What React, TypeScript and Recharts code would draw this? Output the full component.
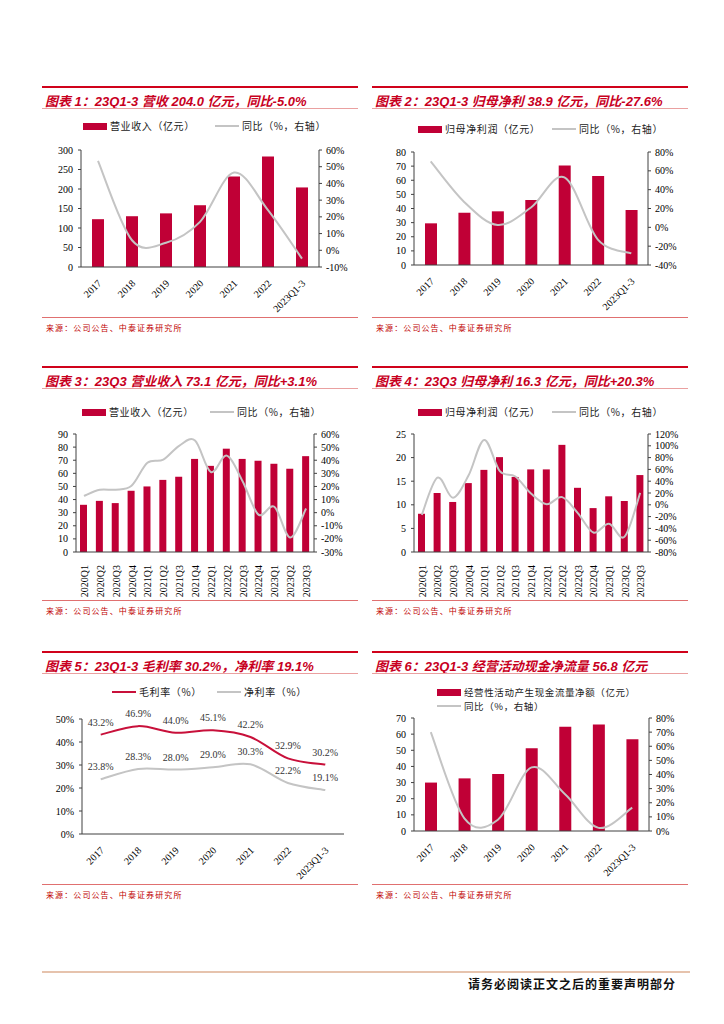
import React from 'react';
import { ComposedChart, Bar, Line, XAxis, YAxis, LabelList } from 'recharts';

const YEARS = ['2017', '2018', '2019', '2020', '2021', '2022', '2023Q1-3'];
const QUARTERS = [
  '2020Q1', '2020Q2', '2020Q3', '2020Q4',
  '2021Q1', '2021Q2', '2021Q3', '2021Q4',
  '2022Q1', '2022Q2', '2022Q3', '2022Q4',
  '2023Q1', '2023Q2', '2023Q3',
];

// 图表1 营业收入（亿元）/ 同比（%）
const revenueYear = [122.6, 130.2, 137.5, 158.4, 232.2, 283.2, 204.0];
const revenueYearYoy = [53.5, 6.0, 4.5, 17.0, 46.5, 24.0, -5.0];

// 图表2 归母净利润（亿元）/ 同比
const profitYear = [29.5, 37.0, 38.0, 46.0, 70.5, 63.0, 38.9];
const profitYearYoy = [70.0, 27.0, 2.5, 21.0, 53.0, -13.0, -27.6];

// 图表3 单季营业收入 / 同比
const revenueQ = [36.0, 39.0, 37.3, 46.7, 50.0, 55.0, 57.4, 71.0, 65.7, 78.8, 71.0, 69.6, 67.3, 63.5, 73.1];
const revenueQYoy = [12.8, 17.5, 17.5, 20.5, 38.0, 40.5, 51.0, 55.0, 31.0, 43.5, 24.0, -1.5, 4.5, -19.0, 3.1];

// 图表4 单季归母净利 / 同比
const profitQ = [8.1, 12.5, 10.6, 14.6, 17.4, 20.1, 15.9, 17.5, 17.5, 22.7, 13.6, 9.3, 11.8, 10.8, 16.3];
const profitQYoy = [-17, 46, 12, 50, 110, 57, 48, 19, 1, 13, -14, -47, -32, -54, 20.3];

// 图表5 毛利率 / 净利率
const grossMargin = [43.2, 46.9, 44.0, 45.1, 42.2, 32.9, 30.2];
const netMargin = [23.8, 28.3, 28.0, 29.0, 30.3, 22.2, 19.1];

// 图表6 经营性现金流净额 / 同比
const cashFlow = [30.0, 32.6, 35.3, 51.2, 64.6, 66.0, 56.8];
const cashFlowYoy = [70.0, 9.0, 8.0, 45.0, 26.0, 2.2, 16.5];

const RED = '#c00036';
const LINE_RED = '#c8103a';
const GRAY = '#c4c4c4';
const AXIS = '#404040';
const TITLE_RED = '#c8001e';
const SERIF = '"Liberation Serif", "Times New Roman", serif';
const CJK = '"Noto Sans CJK SC", sans-serif';
const PAD = 12; // extra room under the tick labels

const toRows = (cats: string[], bar: number[], line: number[]) =>
  cats.map((name, i) => ({ name, bar: bar[i], line: line[i] }));

const range = (a: number, b: number, s: number) => {
  const out: number[] = [];
  for (let v = a; v <= b; v += s) out.push(v);
  return out;
};

const pct = (v: number) => `${v}%`;
const tickStyle = { fontSize: 10, fontFamily: SERIF, fill: '#000' };

// Excel-style smoothed line (Catmull-Rom through the points)
const smoothCurve = (context: any) => {
  let pts: [number, number][] = [];
  return {
    areaStart() {},
    areaEnd() {},
    lineStart() { pts = []; },
    point(x: number, y: number) { pts.push([+x, +y]); },
    lineEnd() {
      const n = pts.length;
      if (!n) return;
      context.moveTo(pts[0][0], pts[0][1]);
      const k = 1 / 6;
      for (let i = 0; i < n - 1; i++) {
        const p0 = pts[i - 1] || pts[i];
        const p1 = pts[i];
        const p2 = pts[i + 1];
        const p3 = pts[i + 2] || p2;
        context.bezierCurveTo(
          p1[0] + (p2[0] - p0[0]) * k, p1[1] + (p2[1] - p0[1]) * k,
          p2[0] - (p3[0] - p1[0]) * k, p2[1] - (p3[1] - p1[1]) * k,
          p2[0], p2[1],
        );
      }
    },
  };
};

const AngledTick = (props: any) => {
  const { x, y, payload } = props;
  const ax = x + 4;
  const ay = y + 9;
  return (
    <text x={ax} y={ay} transform={`rotate(-45 ${ax} ${ay})`} textAnchor="end" fontSize={10} fontFamily={SERIF} fill="#000">
      {payload.value}
    </text>
  );
};

const VerticalTick = (props: any) => {
  const { x, y, payload } = props;
  const ax = x + 4;
  const ay = y + 5;
  return (
    <text x={ax} y={ay} transform={`rotate(-90 ${ax} ${ay})`} textAnchor="end" fontSize={10} fontFamily={SERIF} fill="#000">
      {payload.value}
    </text>
  );
};

type LegendEntry = { kind: 'bar' | 'line'; color: string; label: string; x: number; y: number; size?: number };

const LegendItem = ({ kind, color, label, x, y, size = 10 }: LegendEntry) => (
  <div style={{ position: 'absolute', left: x, top: y - 6, height: 12, display: 'flex', alignItems: 'center', whiteSpace: 'nowrap' }}>
    <div style={{ width: 24, height: kind === 'bar' ? 7 : 2, background: color, marginRight: 3 }} />
    <span style={{ fontFamily: CJK, fontSize: size, lineHeight: '12px', color: '#222', letterSpacing: 0.6 }}>{label}</span>
  </div>
);

const Frame = ({ x, top, title, srcY }: { x: number; top: number; title: string; srcY: number }) => (
  <>
    <div style={{ position: 'absolute', left: x + 2, top, width: 316, height: 2, background: '#d0021b' }} />
    <div
      style={{
        position: 'absolute', left: x + 5, top: top + 5, whiteSpace: 'nowrap',
        fontFamily: `"Liberation Sans", ${CJK}`, fontSize: 13, fontWeight: 'bold', fontStyle: 'italic', color: TITLE_RED,
      }}
    >
      {title}
    </div>
    <div style={{ position: 'absolute', left: x + 2, top: top + 22, width: 316, height: 1, background: '#eaa0a0' }} />
    <div style={{ position: 'absolute', left: x + 2, top: srcY, width: 316, height: 1, background: '#e07070' }} />
    <div style={{ position: 'absolute', left: x + 6, top: srcY + 5, fontFamily: CJK, fontSize: 8, color: '#c00000', letterSpacing: 1.1, whiteSpace: 'nowrap' }}>
      来源：公司公告、中泰证券研究所
    </div>
  </>
);

type DualProps = {
  left: number; top: number; height: number;
  rows: { name: string; bar: number; line: number }[];
  margin: { top: number; right: number; left: number };
  leftTicks: number[]; rightTicks: number[];
  leftWidth: number; rightWidth: number; xHeight: number;
  barSize: number; vertical?: boolean;
};

const DualChart = (p: DualProps) => (
  <div style={{ position: 'absolute', left: p.left, top: p.top }}>
    <ComposedChart width={320} height={p.height + PAD} data={p.rows} margin={{ ...p.margin, bottom: PAD }} style={{ overflow: 'visible' }}>
      <XAxis
        dataKey="name" interval={0} height={p.xHeight} tickLine={false} stroke={AXIS}
        tick={p.vertical ? <VerticalTick /> : <AngledTick />}
      />
      <YAxis
        yAxisId="l" domain={[p.leftTicks[0], p.leftTicks[p.leftTicks.length - 1]]} ticks={p.leftTicks}
        width={p.leftWidth} stroke={AXIS} tickSize={3} tickMargin={5} tick={tickStyle} interval={0}
      />
      <YAxis
        yAxisId="r" orientation="right" domain={[p.rightTicks[0], p.rightTicks[p.rightTicks.length - 1]]} ticks={p.rightTicks}
        tickFormatter={pct} width={p.rightWidth} stroke={AXIS} tickSize={3} tickMargin={4} tick={tickStyle} interval={0}
      />
      <Bar yAxisId="l" dataKey="bar" fill={RED} barSize={p.barSize} isAnimationActive={false} />
      <Line yAxisId="r" dataKey="line" type={smoothCurve as any} stroke={GRAY} strokeWidth={2} dot={false} isAnimationActive={false} />
    </ComposedChart>
  </div>
);

const marginRows = YEARS.map((name, i) => ({ name, gross: grossMargin[i], net: netMargin[i] }));
const fmtPct1 = (v: any) => `${Number(v).toFixed(1)}%`;
const labelStyle = { fontSize: 10, fontFamily: SERIF, fill: '#333' };

const App: React.FC = () => {
  return (
    <div style={{ position: 'absolute', left: 0, top: 0, width: 724, height: 1024, background: '#fff', overflow: 'hidden' }}>
      {/* row 1 */}
      <Frame x={40} top={86} title="图表 1：23Q1-3 营收 204.0 亿元，同比-5.0%" srcY={317} />
      <Frame x={370} top={86} title="图表 2：23Q1-3 归母净利 38.9 亿元，同比-27.6%" srcY={317} />
      <LegendItem kind="bar" color={RED} label="营业收入（亿元）" x={83} y={126} />
      <LegendItem kind="line" color={GRAY} label="同比（%，右轴）" x={215} y={126} />
      <LegendItem kind="bar" color={RED} label="归母净利润（亿元）" x={418} y={129} />
      <LegendItem kind="line" color={GRAY} label="同比（%，右轴）" x={552} y={129} />
      <DualChart
        left={40} top={112} height={200} rows={toRows(YEARS, revenueYear, revenueYearYoy)}
        margin={{ top: 38, right: 3, left: 5 }}
        leftTicks={range(0, 300, 50)} rightTicks={range(-10, 60, 10)}
        leftWidth={36} rightWidth={38} xHeight={45} barSize={12}
      />
      <DualChart
        left={370} top={112} height={200} rows={toRows(YEARS, profitYear, profitYearYoy)}
        margin={{ top: 40, right: 2, left: 8 }}
        leftTicks={range(0, 80, 10)} rightTicks={range(-40, 80, 20)}
        leftWidth={36} rightWidth={40} xHeight={47} barSize={12}
      />

      {/* row 2 */}
      <Frame x={40} top={366} title="图表 3：23Q3 营业收入 73.1 亿元，同比+3.1%" srcY={600} />
      <Frame x={370} top={366} title="图表 4：23Q3 归母净利 16.3 亿元，同比+20.3%" srcY={600} />
      <LegendItem kind="bar" color={RED} label="营业收入（亿元）" x={82} y={412} />
      <LegendItem kind="line" color={GRAY} label="同比（%，右轴）" x={210} y={412} />
      <LegendItem kind="bar" color={RED} label="归母净利润（亿元）" x={418} y={412} />
      <LegendItem kind="line" color={GRAY} label="同比（%，右轴）" x={552} y={412} />
      <DualChart
        left={40} top={395} height={200} rows={toRows(QUARTERS, revenueQ, revenueQYoy)}
        margin={{ top: 39, right: 4, left: 4 }}
        leftTicks={range(0, 90, 10)} rightTicks={range(-30, 60, 10)}
        leftWidth={32} rightWidth={42} xHeight={43} barSize={7} vertical
      />
      <DualChart
        left={370} top={395} height={200} rows={toRows(QUARTERS, profitQ, profitQYoy)}
        margin={{ top: 39, right: 2, left: 8 }}
        leftTicks={range(0, 25, 5)} rightTicks={range(-80, 120, 20)}
        leftWidth={36} rightWidth={40} xHeight={43} barSize={7} vertical
      />

      {/* row 3 */}
      <Frame x={40} top={651} title="图表 5：23Q1-3 毛利率 30.2%，净利率 19.1%" srcY={884} />
      <Frame x={370} top={651} title="图表 6：23Q1-3 经营活动现金净流量 56.8 亿元" srcY={884} />
      <LegendItem kind="line" color={LINE_RED} label="毛利率（%）" x={112} y={692} />
      <LegendItem kind="line" color={GRAY} label="净利率（%）" x={217} y={692} />
      <LegendItem kind="bar" color={RED} label="经营性活动产生现金流量净额（亿元）" x={437} y={692} size={9.5} />
      <LegendItem kind="line" color={GRAY} label="同比（%，右轴）" x={437} y={706} size={9.5} />

      <div style={{ position: 'absolute', left: 40, top: 680 }}>
        <ComposedChart width={320} height={200 + PAD} data={marginRows} margin={{ top: 39, right: 16, bottom: PAD, left: 4 }} style={{ overflow: 'visible' }}>
          <XAxis dataKey="name" scale="band" interval={0} height={46} tickLine={false} stroke={AXIS} tick={<AngledTick />} />
          <YAxis
            domain={[0, 50]} ticks={range(0, 50, 10)} tickFormatter={pct} width={38}
            stroke={AXIS} tickSize={3} tickMargin={5} tick={tickStyle} interval={0}
          />
          <Line dataKey="gross" type={smoothCurve as any} stroke={LINE_RED} strokeWidth={2} dot={false} isAnimationActive={false}>
            <LabelList dataKey="gross" position="top" offset={9} formatter={fmtPct1} style={labelStyle} />
          </Line>
          <Line dataKey="net" type={smoothCurve as any} stroke={GRAY} strokeWidth={2} dot={false} isAnimationActive={false}>
            <LabelList dataKey="net" position="top" offset={9} formatter={fmtPct1} style={labelStyle} />
          </Line>
        </ComposedChart>
      </div>

      <DualChart
        left={370} top={675} height={205} rows={toRows(YEARS, cashFlow, cashFlowYoy)}
        margin={{ top: 43, right: 3, left: 8 }}
        leftTicks={range(0, 70, 10)} rightTicks={range(0, 80, 10)}
        leftWidth={36} rightWidth={38} xHeight={49} barSize={12}
      />

      {/* footer */}
      <div style={{ position: 'absolute', left: 42, top: 971, width: 648, height: 2, background: '#e6c3ad' }} />
      <div style={{ position: 'absolute', right: 48, top: 975, fontFamily: CJK, fontSize: 12, letterSpacing: 1, fontWeight: 'bold', color: '#111', whiteSpace: 'nowrap' }}>
        请务必阅读正文之后的重要声明部分
      </div>
    </div>
  );
};

export default App;
